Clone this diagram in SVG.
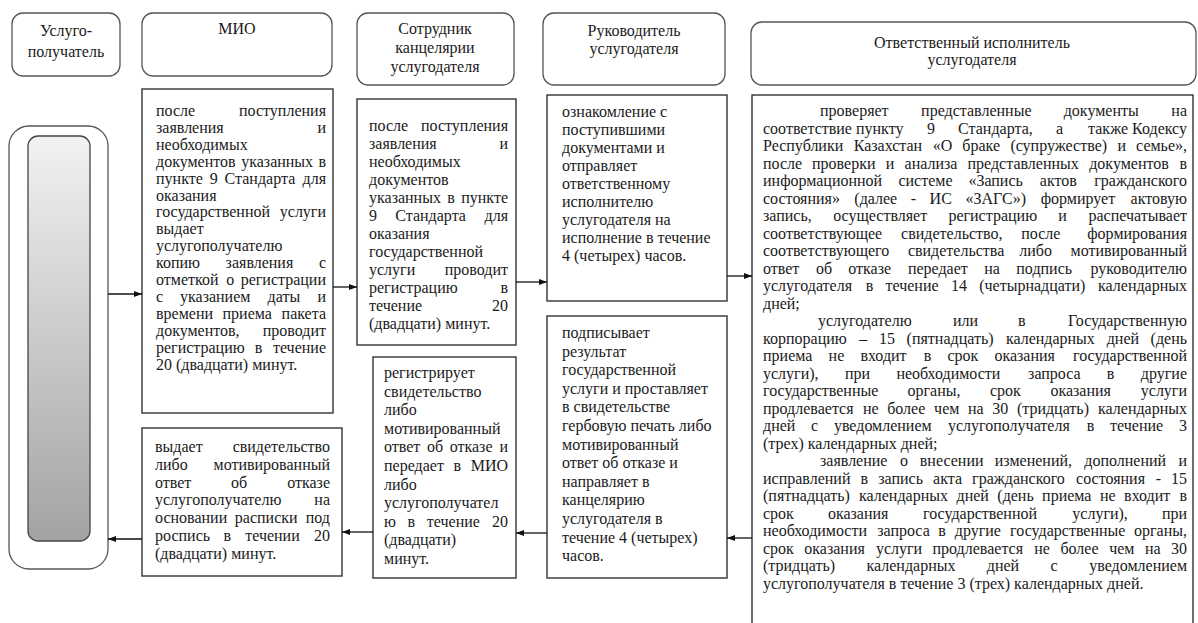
<svg xmlns="http://www.w3.org/2000/svg" width="1198" height="623" viewBox="0 0 1198 623">
<style>
.t{font-family:"Liberation Serif","Times New Roman",serif;font-size:16px;fill:#1a1a1a}
.r{text-anchor:end}
.m{text-anchor:middle}
.hb{fill:#fff;stroke:#555;stroke-width:1.3}
.b{fill:#fff;stroke:#333;stroke-width:1.4}
.c{stroke:#111;stroke-width:1.3;fill:none;marker-end:url(#ah)}
</style>
<defs>
<marker id="ah" viewBox="0 0 8 6" refX="8" refY="3" markerWidth="8" markerHeight="6" markerUnits="userSpaceOnUse" orient="auto"><path d="M0,0 L8,3 L0,6 z" fill="#111"/></marker>
<linearGradient id="gr" x1="0" y1="0" x2="0" y2="1"><stop offset="0" stop-color="#f2f2f2"/><stop offset="1" stop-color="#a3a3a3"/></linearGradient>
</defs>
<rect width="1198" height="623" fill="#fff"/>

<g id="h1"><rect class="hb" x="12" y="13" width="108" height="63" rx="11"/>
<text class="t m" x="66" y="36">Услуго-</text><text class="t m" x="66" y="57">получатель</text></g>
<g id="h2"><rect class="hb" x="142" y="13" width="190" height="63" rx="11"/>
<text class="t m" x="237" y="34">МИО</text></g>
<g id="h3"><rect class="hb" x="357" y="13" width="157" height="72" rx="11"/>
<text class="t m" x="435" y="34">Сотрудник</text><text class="t m" x="435" y="53">канцелярии</text><text class="t m" x="435" y="72">услугодателя</text></g>
<g id="h4"><rect class="hb" x="543" y="13" width="182" height="72" rx="11"/>
<text class="t m" x="634" y="36">Руководитель</text><text class="t m" x="634" y="54">услугодателя</text></g>
<g id="h5"><rect class="hb" x="751" y="22" width="445" height="63" rx="11"/>
<text class="t m" x="972" y="48">Ответственный исполнитель</text><text class="t m" x="972" y="65">услугодателя</text></g>

<g id="client"><rect x="9" y="126" width="99" height="443" rx="20" fill="#fff" stroke="#555" stroke-width="1.3"/>
<rect x="28" y="136" width="62" height="405" rx="10" fill="url(#gr)" stroke="#444" stroke-width="1.3"/></g>

<g id="mio1"><rect class="b" x="142" y="89" width="191" height="324"/>
<text class="t" x="156" y="116">после</text><text class="t r" x="326" y="116">поступления</text>
<text class="t" x="156" y="132.9">заявления</text><text class="t r" x="326" y="132.9">и</text>
<text class="t" x="156" y="149.8">необходимых</text>
<text class="t" y="166.7"><tspan x="156">документов</tspan><tspan x="241.2">указанных</tspan></text><text class="t r" x="326" y="166.7">в</text>
<text class="t" y="183.6"><tspan x="156">пункте</tspan><tspan x="209.8">9</tspan><tspan x="224.6">Стандарта</tspan></text><text class="t r" x="326" y="183.6">для</text>
<text class="t" x="156" y="200.5">оказания</text>
<text class="t" x="156" y="217.4">государственной</text><text class="t r" x="326" y="217.4">услуги</text>
<text class="t" x="156" y="234.3">выдает</text>
<text class="t" x="156" y="251.2">услугополучателю</text>
<text class="t" y="268.1"><tspan x="156">копию</tspan><tspan x="225.6">заявления</tspan></text><text class="t r" x="326" y="268.1">с</text>
<text class="t" y="285"><tspan x="156">отметкой</tspan><tspan x="226.2">о</tspan></text><text class="t r" x="326" y="285">регистрации</text>
<text class="t" y="301.9"><tspan x="156">с</tspan><tspan x="180">указанием</tspan><tspan x="267.6">даты</tspan></text><text class="t r" x="326" y="301.9">и</text>
<text class="t" y="318.8"><tspan x="156">времени</tspan><tspan x="222.5">приема</tspan></text><text class="t r" x="326" y="318.8">пакета</text>
<text class="t" x="156" y="335.7">документов,</text><text class="t r" x="326" y="335.7">проводит</text>
<text class="t" y="352.6"><tspan x="156">регистрацию</tspan><tspan x="254.7">в</tspan></text><text class="t r" x="326" y="352.6">течение</text>
<text class="t" x="156" y="369.5">20 (двадцати) минут.</text></g>

<g id="office1"><rect class="b" x="357" y="99" width="159" height="246"/>
<text class="t" x="369" y="131">после</text><text class="t r" x="508" y="131">поступления</text>
<text class="t" x="369" y="149">заявления</text><text class="t r" x="508" y="149">и</text>
<text class="t" x="369" y="167">необходимых</text>
<text class="t" x="369" y="185">документов</text>
<text class="t" y="203"><tspan x="369">указанных</tspan><tspan x="447.3">в</tspan></text><text class="t r" x="508" y="203">пункте</text>
<text class="t" y="221"><tspan x="369">9</tspan><tspan x="395.3">Стандарта</tspan></text><text class="t r" x="508" y="221">для</text>
<text class="t" x="369" y="239">оказания</text>
<text class="t" x="369" y="257">государственной</text>
<text class="t" x="369" y="275">услуги</text><text class="t r" x="508" y="275">проводит</text>
<text class="t" x="369" y="293">регистрацию</text><text class="t r" x="508" y="293">в</text>
<text class="t" x="369" y="311">течение</text><text class="t r" x="508" y="311">20</text>
<text class="t" x="369" y="329">(двадцати) минут.</text></g>

<g id="head1"><rect class="b" x="547" y="95" width="180" height="206"/>
<text class="t" x="562" y="117">ознакомление с</text>
<text class="t" x="562" y="135">поступившими</text>
<text class="t" x="562" y="153">документами и</text>
<text class="t" x="562" y="171">отправляет</text>
<text class="t" x="562" y="189">ответственному</text>
<text class="t" x="562" y="207">исполнителю</text>
<text class="t" x="562" y="225">услугодателя на</text>
<text class="t" x="562" y="243">исполнение в течение</text>
<text class="t" x="562" y="261">4 (четырех) часов.</text></g>

<g id="exec"><rect class="b" x="752" y="95" width="441" height="560"/>
<text class="t" y="116"><tspan x="820">проверяет</tspan><tspan x="921.1">представленные</tspan><tspan x="1063.7">документы</tspan></text><text class="t r" x="1187" y="116">на</text>
<text class="t" y="133.5"><tspan x="763">соответствие пункту</tspan><tspan x="927">9</tspan><tspan x="958.1">Стандарта,</tspan><tspan x="1055.9">а</tspan></text><text class="t r" x="1187" y="133.5">также Кодексу</text>
<text class="t" y="151"><tspan x="763">Республики</tspan><tspan x="853.7">Казахстан</tspan><tspan x="932.7">«О</tspan><tspan x="962.3">браке</tspan><tspan x="1010.4">(супружестве)</tspan><tspan x="1117.6">и</tspan></text><text class="t r" x="1187" y="151">семье»,</text>
<text class="t" y="168.5"><tspan x="763">после</tspan><tspan x="812">проверки</tspan><tspan x="885.8">и</tspan><tspan x="904.6">анализа</tspan><tspan x="967.5">представленных</tspan><tspan x="1089.2">документов</tspan></text><text class="t r" x="1187" y="168.5">в</text>
<text class="t" y="186"><tspan x="763">информационной</tspan><tspan x="898.4">системе</tspan><tspan x="968.4">«Запись</tspan><tspan x="1039.8">актов</tspan></text><text class="t r" x="1187" y="186">гражданского</text>
<text class="t" y="203.5"><tspan x="763">состояния»</tspan><tspan x="854.3">(далее</tspan><tspan x="910.7">-</tspan><tspan x="929.6">ИС</tspan><tspan x="965.4">«ЗАГС»)</tspan><tspan x="1040.7">формирует</tspan></text><text class="t r" x="1187" y="203.5">актовую</text>
<text class="t" y="221"><tspan x="763">запись,</tspan><tspan x="833.2">осуществляет</tspan><tspan x="948.4">регистрацию</tspan><tspan x="1058.2">и</tspan></text><text class="t r" x="1187" y="221">распечатывает</text>
<text class="t" y="238.5"><tspan x="763">соответствующее</tspan><tspan x="901.1">свидетельство,</tspan><tspan x="1021.2">после</tspan></text><text class="t r" x="1187" y="238.5">формирования</text>
<text class="t" y="256"><tspan x="763">соответствующего</tspan><tspan x="907.9">свидетельства</tspan><tspan x="1019.3">либо</tspan></text><text class="t r" x="1187" y="256">мотивированный</text>
<text class="t" y="273.5"><tspan x="763">ответ</tspan><tspan x="815.9">об</tspan><tspan x="848.3">отказе</tspan><tspan x="907.9">передает</tspan><tspan x="984.3">на</tspan><tspan x="1016.3">подпись</tspan></text><text class="t r" x="1187" y="273.5">руководителю</text>
<text class="t" y="291"><tspan x="763">услугодателя</tspan><tspan x="865.8">в</tspan><tspan x="885.5">течение</tspan><tspan x="951.1">14</tspan><tspan x="979.2">(четырнадцати)</tspan></text><text class="t r" x="1187" y="291">календарных</text>
<text class="t" x="763" y="308.5">дней;</text>
<text class="t" y="326"><tspan x="818">услугодателю</tspan><tspan x="952.9">или</tspan><tspan x="1018">в</tspan></text><text class="t r" x="1187" y="326">Государственную</text>
<text class="t" y="343.5"><tspan x="763">корпорацию</tspan><tspan x="859.2">–</tspan><tspan x="878.9">15</tspan><tspan x="906.6">(пятнадцать)</tspan><tspan x="1005.9">календарных</tspan><tspan x="1106.7">дней</tspan></text><text class="t r" x="1187" y="343.5">(день</text>
<text class="t" y="361"><tspan x="763">приема</tspan><tspan x="828.6">не</tspan><tspan x="860.4">входит</tspan><tspan x="923.7">в</tspan><tspan x="947.4">срок</tspan><tspan x="994.4">оказания</tspan></text><text class="t r" x="1187" y="361">государственной</text>
<text class="t" y="378.5"><tspan x="763">услуги),</tspan><tspan x="844.9">при</tspan><tspan x="896.4">необходимости</tspan><tspan x="1028.1">запроса</tspan><tspan x="1106.7">в</tspan></text><text class="t r" x="1187" y="378.5">другие</text>
<text class="t" y="396"><tspan x="763">государственные</tspan><tspan x="907.5">органы,</tspan><tspan x="990">срок</tspan><tspan x="1050.4">оказания</tspan></text><text class="t r" x="1187" y="396">услуги</text>
<text class="t" y="413.5"><tspan x="763">продлевается</tspan><tspan x="862.9">не</tspan><tspan x="887.2">более</tspan><tspan x="934.1">чем</tspan><tspan x="968">на</tspan><tspan x="992.3">30</tspan><tspan x="1016.9">(тридцать)</tspan></text><text class="t r" x="1187" y="413.5">календарных</text>
<text class="t" y="431"><tspan x="763">дней</tspan><tspan x="811.1">с</tspan><tspan x="833.9">уведомлением</tspan><tspan x="948">услугополучателя</tspan><tspan x="1086.8">в</tspan><tspan x="1110.1">течение</tspan></text><text class="t r" x="1187" y="431">3</text>
<text class="t" x="763" y="448.5">(трех) календарных дней;</text>
<text class="t" y="466"><tspan x="820">заявление</tspan><tspan x="899.9">о</tspan><tspan x="919.8">внесении</tspan><tspan x="994.8">изменений,</tspan><tspan x="1084.3">дополнений</tspan></text><text class="t r" x="1187" y="466">и</text>
<text class="t" y="483.5"><tspan x="763">исправлений</tspan><tspan x="860.6">в</tspan><tspan x="878.2">запись</tspan><tspan x="933.1">акта</tspan><tspan x="972.1">гражданского</tspan><tspan x="1076.1">состояния</tspan><tspan x="1155.8">-</tspan></text><text class="t r" x="1187" y="483.5">15</text>
<text class="t" y="501"><tspan x="763">(пятнадцать)</tspan><tspan x="859">календарных</tspan><tspan x="956.5">дней</tspan><tspan x="997.3">(день</tspan><tspan x="1042.1">приема</tspan><tspan x="1100">не</tspan><tspan x="1124.1">входит</tspan></text><text class="t r" x="1187" y="501">в</text>
<text class="t" y="518.5"><tspan x="763">срок</tspan><tspan x="827.9">оказания</tspan><tspan x="923">государственной</tspan><tspan x="1072.3">услуги),</tspan></text><text class="t r" x="1187" y="518.5">при</text>
<text class="t" y="536"><tspan x="763">необходимости</tspan><tspan x="877.2">запроса</tspan><tspan x="938.3">в</tspan><tspan x="954.8">другие</tspan><tspan x="1010.1">государственные</tspan></text><text class="t r" x="1187" y="536">органы,</text>
<text class="t" y="553.5"><tspan x="763">срок</tspan><tspan x="804.3">оказания</tspan><tspan x="875.9">услуги</tspan><tspan x="932.5">продлевается</tspan><tspan x="1034.3">не</tspan><tspan x="1060.4">более</tspan><tspan x="1109.2">чем</tspan><tspan x="1144.9">на</tspan></text><text class="t r" x="1187" y="553.5">30</text>
<text class="t" y="571"><tspan x="763">(тридцать)</tspan><tspan x="866.5">календарных</tspan><tspan x="986.8">дней</tspan><tspan x="1050.4">с</tspan></text><text class="t r" x="1187" y="571">уведомлением</text>
<text class="t" x="763" y="588.5">услугополучателя в течение 3 (трех) календарных дней.</text></g>

<g id="head2"><rect class="b" x="547" y="316" width="180" height="262"/>
<text class="t" x="562" y="338">подписывает</text>
<text class="t" x="562" y="356.6">результат</text>
<text class="t" x="562" y="375.2">государственной</text>
<text class="t" x="562" y="393.8">услуги и проставляет</text>
<text class="t" x="562" y="412.4">в свидетельстве</text>
<text class="t" x="562" y="431">гербовую печать либо</text>
<text class="t" x="562" y="449.6">мотивированный</text>
<text class="t" x="562" y="468.2">ответ об отказе и</text>
<text class="t" x="562" y="486.8">направляет в</text>
<text class="t" x="562" y="505.4">канцелярию</text>
<text class="t" x="562" y="524">услугодателя в</text>
<text class="t" x="562" y="542.6">течение 4 (четырех)</text>
<text class="t" x="562" y="561.2">часов.</text></g>

<g id="office2"><rect class="b" x="373" y="357" width="143" height="221"/>
<text class="t" x="384" y="378">регистрирует</text>
<text class="t" x="384" y="396.6">свидетельство</text>
<text class="t" x="384" y="415.2">либо</text>
<text class="t" x="384" y="433.8">мотивированный</text>
<text class="t" y="452.4"><tspan x="384">ответ</tspan><tspan x="427.1">об</tspan><tspan x="449.7">отказе</tspan></text><text class="t r" x="508" y="452.4">и</text>
<text class="t" y="471"><tspan x="384">передает</tspan><tspan x="453.6">в</tspan></text><text class="t r" x="508" y="471">МИО</text>
<text class="t" x="384" y="489.6">либо</text>
<text class="t" x="384" y="508.2">услугополучател</text>
<text class="t" y="526.8"><tspan x="384">ю</tspan><tspan x="407.6">в</tspan><tspan x="426.8">течение</tspan></text><text class="t r" x="508" y="526.8">20</text>
<text class="t" x="384" y="545.4">(двадцати)</text>
<text class="t" x="384" y="564">минут.</text></g>

<g id="mio2"><rect class="b" x="142" y="428" width="200" height="148"/>
<text class="t" x="155" y="452">выдает</text><text class="t r" x="330" y="452">свидетельство</text>
<text class="t" x="155" y="469.8">либо</text><text class="t r" x="330" y="469.8">мотивированный</text>
<text class="t" y="487.6"><tspan x="155">ответ</tspan><tspan x="231.1">об</tspan></text><text class="t r" x="330" y="487.6">отказе</text>
<text class="t" x="155" y="505.4">услугополучателю</text><text class="t r" x="330" y="505.4">на</text>
<text class="t" y="523.2"><tspan x="155">основании</tspan><tspan x="234.8">расписки</tspan></text><text class="t r" x="330" y="523.2">под</text>
<text class="t" y="541"><tspan x="155">роспись</tspan><tspan x="223.6">в</tspan><tspan x="245.2">течении</tspan></text><text class="t r" x="330" y="541">20</text>
<text class="t" x="155" y="558.8">(двадцати) минут.</text></g>

<g id="connectors">
<line class="c" x1="108" y1="294" x2="142" y2="294"/>
<line class="c" x1="333" y1="287" x2="357" y2="287"/>
<line class="c" x1="516" y1="282" x2="547" y2="282"/>
<line class="c" x1="727" y1="276" x2="752" y2="276"/>
<line class="c" x1="752" y1="538" x2="727" y2="538"/>
<line class="c" x1="547" y1="533" x2="516" y2="533"/>
<line class="c" x1="373" y1="532" x2="342" y2="532"/>
<line class="c" x1="142" y1="539" x2="108" y2="539"/>
</g>
</svg>
